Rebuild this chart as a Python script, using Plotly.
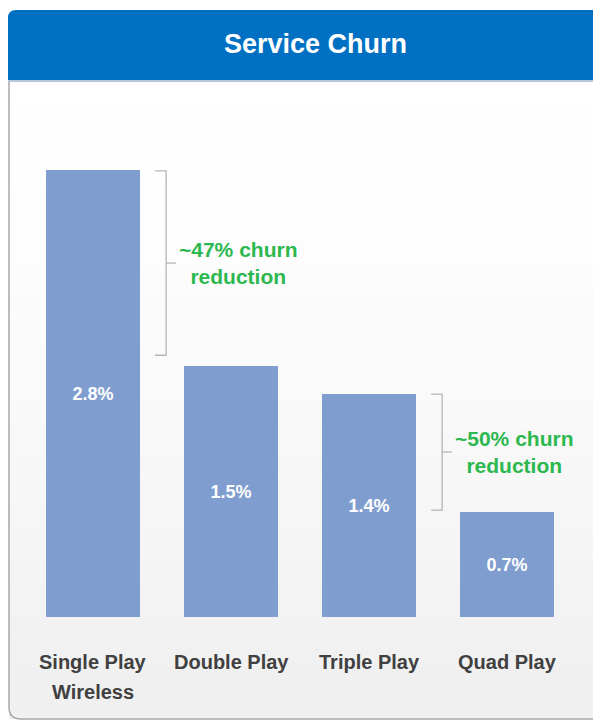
import plotly.graph_objects as go

# ---- data ----
categories = ["Single Play<br>Wireless", "Double Play", "Triple Play", "Quad Play"]
churn_values = [2.8, 1.57, 1.4, 0.66]
value_labels = ["2.8%", "1.5%", "1.4%", "0.7%"]
title_text = "Service Churn"
callouts = ["~47% churn<br>reduction", "~50% churn<br>reduction"]
# bracket spans: (x category position, y from, y to)
bracket_spans = [(0.5, 1.64, 2.795), (2.5, 0.67, 1.397)]

W, H = 620, 716
OFF = 8  # page body margin
FONT = "Liberation Sans, Arial, sans-serif"


def px(x):
    return (x - OFF) / W


def py(y):
    return 1 - (y - OFF) / H


fig = go.Figure()

fig.add_trace(go.Bar(
    x=list(range(len(categories))),
    y=churn_values,
    text=value_labels,
    textposition="inside",
    insidetextanchor="middle",
    textfont=dict(color="white", size=18, family=FONT, weight="bold"),
    marker=dict(color="#7f9ecf", line=dict(width=0)),
    width=0.68,
    hoverinfo="skip",
))

shapes = []
# panel background gradient (light bands)
top, bottom = 80, 719
n = 24
for i in range(n):
    y0 = top + (bottom - top) * i / n
    y1 = top + (bottom - top) * (i + 1) / n
    g = int(255 - 15 * (i / (n - 1)) ** 1.5)
    shapes.append(dict(type="rect", xref="paper", yref="paper",
                       x0=px(9), x1=1.05, y0=py(y1), y1=py(y0),
                       fillcolor=f"rgb({g},{g},{g})", line=dict(width=0), layer="below"))
# panel border (left + bottom with rounded corner)
r = 12
shapes.append(dict(type="path", xref="paper", yref="paper",
                   path=(f"M {px(9)},{py(80)} L {px(9)},{py(719 - r)} "
                         f"Q {px(9)},{py(719)} {px(9 + r)},{py(719)} L {px(640)},{py(719)}"),
                   line=dict(color="#a8a8a8", width=1.5), layer="below"))
# header band with rounded top-left
r2 = 8
shapes.append(dict(type="path", xref="paper", yref="paper",
                   path=(f"M {px(8)},{py(80)} L {px(8)},{py(10 + r2)} "
                         f"Q {px(8)},{py(10)} {px(8 + r2)},{py(10)} L {px(640)},{py(10)} "
                         f"L {px(640)},{py(80)} Z"),
                   fillcolor="#0070c2", line=dict(width=0), layer="below"))
shapes.append(dict(type="rect", xref="paper", yref="paper",
                   x0=px(8), x1=1.05, y0=py(82), y1=py(80),
                   fillcolor="#b8c8dc", line=dict(width=0), layer="below"))

# brackets
arm = 0.08
tick = 0.07
for xc, ya, yb in bracket_spans:
    xv = xc + 0.03
    shapes.append(dict(type="path", xref="x", yref="y",
                       path=(f"M {xv - arm},{yb} L {xv},{yb} L {xv},{ya} L {xv - arm},{ya}"),
                       line=dict(color="#b5b5b5", width=1.3)))
    ym = (ya + yb) / 2
    shapes.append(dict(type="line", xref="x", yref="y",
                       x0=xv, x1=xv + tick, y0=ym, y1=ym,
                       line=dict(color="#b5b5b5", width=1.3)))

annotations = [dict(text=title_text, x=px(315), y=py(44), xref="paper", yref="paper",
                    showarrow=False, font=dict(color="white", size=27, family=FONT, weight="bold"),
                    xanchor="center", yanchor="middle")]

# callout texts
for (xc, ya, yb), txt in zip(bracket_spans, callouts):
    annotations.append(dict(text=txt, x=xc + 0.11,
                            y=(ya + yb) / 2, xref="x", yref="y",
                            showarrow=False, xanchor="left", yanchor="middle", align="center",
                            font=dict(color="#2cb84f", size=21, family=FONT, weight="bold")))

# category labels
for i, c in enumerate(categories):
    for j, line in enumerate(c.split("<br>")):
        annotations.append(dict(text=line, x=i, y=py(662 + 30 * j), xref="x", yref="paper",
                                showarrow=False, xanchor="center", yanchor="middle",
                                font=dict(color="#404040", size=20, family=FONT, weight="bold")))

fig.update_layout(
    width=W, height=H,
    margin=dict(l=0, r=0, t=0, b=0),
    paper_bgcolor="white", plot_bgcolor="rgba(0,0,0,0)",
    showlegend=False,
    bargap=0,
    shapes=shapes,
    annotations=annotations,
    xaxis=dict(domain=[px(24), px(576)], range=[-0.5, 3.5], visible=False, fixedrange=True),
    yaxis=dict(domain=[py(617), py(100)], range=[0, (617 - 100) / 159.6], visible=False, fixedrange=True),
)

fig.write_html("out.html")
